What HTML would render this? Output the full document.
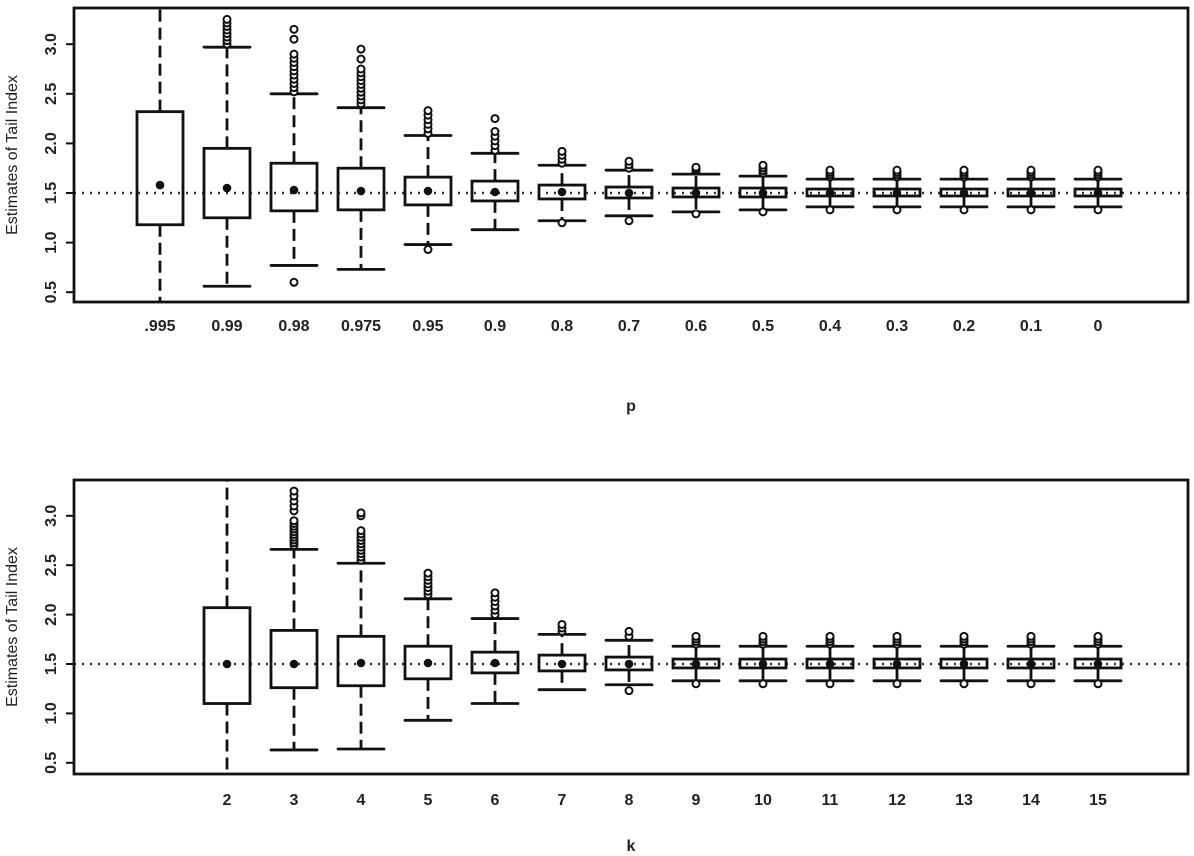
<!DOCTYPE html>
<html><head><meta charset="utf-8"><style>body{margin:0;background:#fff}svg{display:block}text{font-family:"Liberation Sans",Arial,sans-serif;fill:#222}</style></head>
<body><svg id="s" width="1194" height="856" xmlns="http://www.w3.org/2000/svg"></svg>
<script>
(function(){
const S=document.getElementById('s');let h='';
function panel(pt,pb,y15,per,labels,data,xl,xlY,tlY){
 const y=v=>y15-(v-1.5)*per*2;
 h+=`<line x1="74" x2="1188" y1="${y(1.5)}" y2="${y(1.5)}" stroke="#333" stroke-width="2.4" stroke-dasharray="2,6"/>`;
 [0.5,1,1.5,2,2.5,3].forEach(v=>{const yy=y(v);h+=`<line x1="66" x2="74" y1="${yy}" y2="${yy}" stroke="#111" stroke-width="2"/><text transform="translate(56,${yy}) rotate(-90)" text-anchor="middle" font-size="16" font-weight="600">${v.toFixed(1)}</text>`;});
 h+=`<text transform="translate(17,${(pt+pb)/2}) rotate(-90)" text-anchor="middle" font-size="16">Estimates of Tail Index</text>`;
 data.forEach((d,i)=>{
  if(!d)return;
  const cx=160+67*i,w=23;const q1=d[0],q3=d[1],lo=d[2],hi=d[3],mn=d[4],outs=d[5];
  const ylo=lo===null?pb:y(lo),yhi=hi===null?pt:y(hi);
  h+=`<line x1="${cx}" x2="${cx}" y1="${y(q3)}" y2="${yhi}" stroke="#111" stroke-width="2.8" stroke-dasharray="12,6"/>`;
  h+=`<line x1="${cx}" x2="${cx}" y1="${y(q1)}" y2="${ylo}" stroke="#111" stroke-width="2.8" stroke-dasharray="12,6"/>`;
  if(hi!==null)h+=`<line x1="${cx-w}" x2="${cx+w}" y1="${yhi}" y2="${yhi}" stroke="#111" stroke-width="2.8" stroke-linecap="round"/>`;
  if(lo!==null)h+=`<line x1="${cx-w}" x2="${cx+w}" y1="${ylo}" y2="${ylo}" stroke="#111" stroke-width="2.8" stroke-linecap="round"/>`;
  h+=`<rect x="${cx-w}" y="${y(q3)}" width="${2*w}" height="${y(q1)-y(q3)}" fill="none" stroke="#111" stroke-width="2.8"/>`;
  outs.forEach(o=>{h+=`<circle cx="${cx}" cy="${y(o)}" r="3.5" fill="#fff" stroke="#111" stroke-width="2"/>`;});
  h+=`<circle cx="${cx}" cy="${y(mn)}" r="4.3" fill="#111"/>`;
 });
 labels.forEach((l,i)=>{if(l!=='')h+=`<text x="${160+67*i}" y="${xlY}" text-anchor="middle" font-size="16" font-weight="600">${l}</text>`;});
 h+=`<text x="631" y="${tlY}" text-anchor="middle" font-size="16" font-weight="600">${xl}</text>`;
 h+=`<rect x="74" y="${pt}" width="1114" height="${pb-pt}" fill="none" stroke="#111" stroke-width="2.8"/>`;
}
function rng(a,b,n){const r=[];for(let i=0;i<n;i++)r.push(a+(b-a)*i/(Math.max(n-1,1)));return r;}
const small=[1.47,1.54,1.36,1.64,1.5,[].concat(rng(1.66,1.73,4),[1.33])];
const topData=[
 [1.18,2.32,null,null,1.58,[]],
 [1.25,1.95,0.56,2.97,1.55,rng(3.0,3.25,8)],
 [1.32,1.80,0.77,2.50,1.53,[].concat(rng(2.52,2.9,10),[3.05,3.15,0.6])],
 [1.33,1.75,0.73,2.36,1.52,[].concat(rng(2.4,2.75,10),[2.85,2.95])],
 [1.38,1.66,0.98,2.08,1.52,[].concat(rng(2.1,2.33,6),[0.93])],
 [1.42,1.62,1.13,1.90,1.51,[].concat(rng(1.93,2.12,5),[2.25])],
 [1.44,1.58,1.22,1.78,1.51,[].concat(rng(1.8,1.92,4),[1.2])],
 [1.45,1.56,1.27,1.73,1.5,[].concat(rng(1.75,1.82,3),[1.22])],
 [1.46,1.55,1.31,1.69,1.5,[].concat(rng(1.72,1.76,3),[1.29])],
 [1.46,1.55,1.33,1.67,1.5,[].concat(rng(1.7,1.78,4),[1.31])],
 small,small,small,small,small];
panel(8,302,193,49.6,['.995','0.99','0.98','0.975','0.95','0.9','0.8','0.7','0.6','0.5','0.4','0.3','0.2','0.1','0'],topData,'p',331,411);
const sm2=[1.46,1.55,1.33,1.68,1.5,[].concat(rng(1.7,1.78,4),[1.3])];
const botData=[null,
 [1.10,2.07,null,null,1.5,[]],
 [1.26,1.84,0.63,2.66,1.5,[].concat(rng(2.7,2.95,10),rng(3.05,3.25,5))],
 [1.28,1.78,0.64,2.52,1.51,[].concat(rng(2.55,2.85,10),[3.0,3.03])],
 [1.35,1.68,0.93,2.16,1.51,rng(2.2,2.42,7)],
 [1.41,1.62,1.10,1.96,1.51,rng(2.0,2.22,6)],
 [1.43,1.59,1.24,1.80,1.5,rng(1.83,1.9,3)],
 [1.44,1.57,1.29,1.74,1.5,[1.78,1.83,1.23]],
 sm2,sm2,sm2,sm2,sm2,sm2,sm2];
panel(480,774,664,49.4,['','2','3','4','5','6','7','8','9','10','11','12','13','14','15'],botData,'k',805,851);
S.innerHTML=h;
})();
</script></body></html>
